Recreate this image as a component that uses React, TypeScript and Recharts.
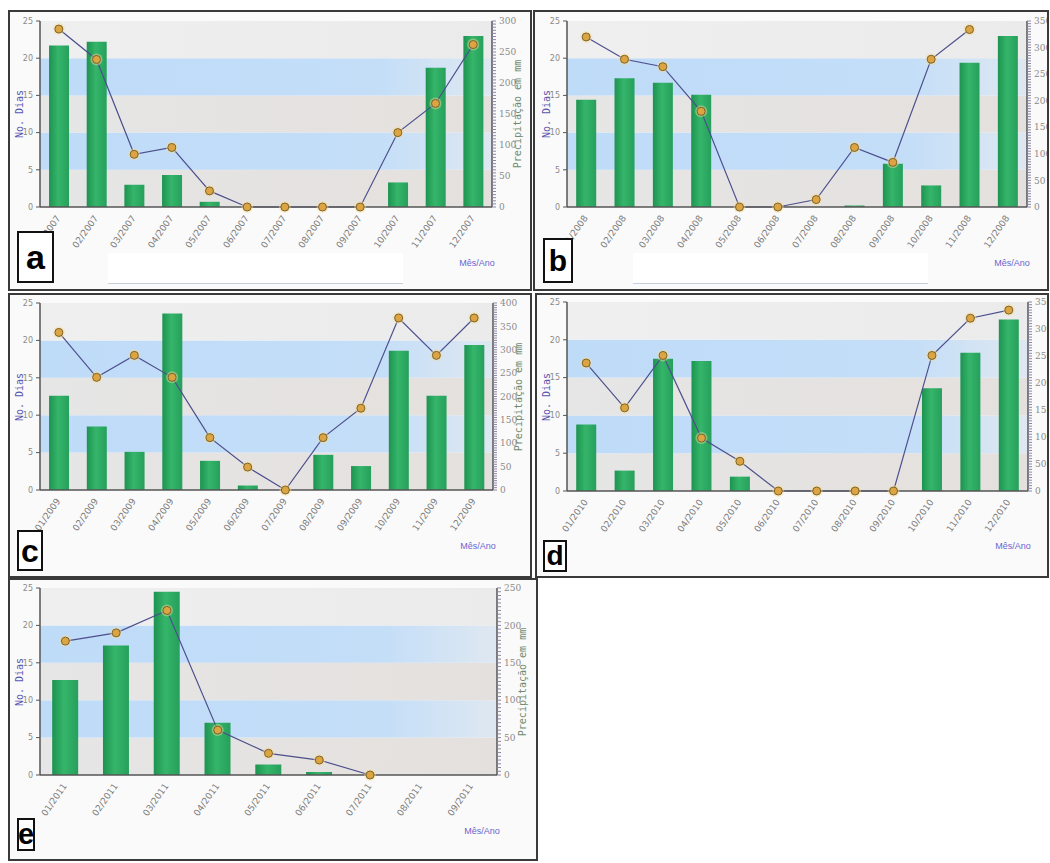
import React from 'react'
import { ComposedChart, Bar, Line, XAxis, YAxis, ReferenceArea } from 'recharts'

// month labels per year
const months2007 = ['01/2007', '02/2007', '03/2007', '04/2007', '05/2007', '06/2007', '07/2007', '08/2007', '09/2007', '10/2007', '11/2007', '12/2007']
const months2008 = ['01/2008', '02/2008', '03/2008', '04/2008', '05/2008', '06/2008', '07/2008', '08/2008', '09/2008', '10/2008', '11/2008', '12/2008']
const months2009 = ['01/2009', '02/2009', '03/2009', '04/2009', '05/2009', '06/2009', '07/2009', '08/2009', '09/2009', '10/2009', '11/2009', '12/2009']
const months2010 = ['01/2010', '02/2010', '03/2010', '04/2010', '05/2010', '06/2010', '07/2010', '08/2010', '09/2010', '10/2010', '11/2010', '12/2010']
const months2011 = ['01/2011', '02/2011', '03/2011', '04/2011', '05/2011', '06/2011', '07/2011', '08/2011', '09/2011']

// No. Dias (bars)
const dias2007 = [21.7, 22.2, 3.0, 4.3, 0.7, 0, 0, 0, 0, 3.3, 18.7, 23.0]
const dias2008 = [14.4, 17.3, 16.7, 15.1, 0, 0, 0, 0.2, 5.8, 2.9, 19.4, 23.0]
const dias2009 = [12.6, 8.5, 5.1, 23.6, 3.9, 0.6, 0, 4.7, 3.2, 18.6, 12.6, 19.4]
const dias2010 = [8.8, 2.7, 17.5, 17.2, 1.9, 0, 0, 0, 0, 13.6, 18.3, 22.7]
const dias2011 = [12.7, 17.3, 24.5, 7.0, 1.4, 0.4, 0, null, null]

// Precipitação em mm (line)
const chuva2007 = [287, 238, 85, 96, 26, 0, 0, 0, 0, 120, 167, 262]
const chuva2008 = [320, 278, 264, 180, 0, 0, 14, 112, 84, 278, 334, null]
const chuva2009 = [337, 241, 288, 241, 112, 49, 0, 112, 175, 368, 288, 368]
const chuva2010 = [237, 154, 251, 98, 55, 0, 0, 0, 0, 251, 320, 335]
const chuva2011 = [179, 190, 220, 60, 29, 20, 0, null, null]

const diasTicks = [0, 5, 10, 15, 20, 25]

const bands = [
  { y1: 0, y2: 5, fill: 'url(#bandGrey)' },
  { y1: 5, y2: 10, fill: 'url(#bandBlue)' },
  { y1: 10, y2: 15, fill: 'url(#bandGrey)' },
  { y1: 15, y2: 20, fill: 'url(#bandBlue)' },
  { y1: 20, y2: 25, fill: 'url(#bandLight)' },
]

const makeRows = (cats: string[], dias: (number | null)[], chuva: (number | null)[]) =>
  cats.map((m, i) => ({ mes: m, dias: dias[i], chuva: chuva[i] }))

const XTick = (props: any) => {
  const { x, y, payload } = props
  const tx = x + 2
  const ty = y + 3
  return (
    <text x={tx} y={ty} transform={`rotate(-55 ${tx} ${ty})`} textAnchor="end" fontSize={9} fill="#7a7a7a" fontFamily="DejaVu Sans">
      {payload.value}
    </text>
  )
}

const Dot = (props: any) => {
  const { cx, cy, value } = props
  if (value == null || cx == null || cy == null) return null
  return (
    <g>
      <circle cx={cx} cy={cy} r={6} fill="#f3dc9a" opacity={0.45} />
      <circle cx={cx} cy={cy} r={4} fill="#dca443" stroke="#7d6428" strokeWidth={1} />
    </g>
  )
}

interface PanelProps {
  rows: any[]
  rightMax: number
  box: { left: number; top: number; w: number; h: number }
  plot: { left: number; right: number; top: number; bottom: number }
  letter: string
  letterBox: { left: number; top: number; w: number; h: number; size: number }
  legendLine?: boolean
}

function Panel({ rows, rightMax, box, plot, letter, letterBox, legendLine }: PanelProps) {
  const rightTicks: number[] = []
  for (let v = 0; v <= rightMax; v += 5) rightTicks.push(v)
  const midY = (plot.top + plot.bottom) / 2
  return (
    <div style={{ position: 'absolute', left: box.left, top: box.top, width: box.w, height: box.h, background: '#fafafa', overflow: 'hidden' }}>
      {legendLine && (
        <div style={{ position: 'absolute', left: 100, top: 243, width: 295, height: 30, background: '#ffffff', borderBottom: '1px solid #c2cfdc' }} />
      )}
      <div style={{ position: 'absolute', left: 0, top: 0 }}>
        <ComposedChart
          width={box.w}
          height={box.h}
          data={rows}
          margin={{ top: plot.top, right: 0, bottom: 0, left: 0 }}
          barCategoryGap="24%"
        >
          {bands.map((b) => (
            <ReferenceArea key={b.y1} yAxisId="left" y1={b.y1} y2={b.y2} fill={b.fill} fillOpacity={1} stroke="none" ifOverflow="visible" />
          ))}
          <XAxis
            dataKey="mes"
            height={box.h - plot.bottom}
            interval={0}
            tickLine={false}
            tick={<XTick />}
            axisLine={{ stroke: '#555', strokeWidth: 1.5 }}
          />
          <YAxis
            yAxisId="left"
            orientation="left"
            width={plot.left}
            domain={[0, 25]}
            ticks={diasTicks}
            interval={0}
            tickSize={4}
            tickMargin={3}
            tick={{ fontSize: 8, fill: '#8a8a8a', fontFamily: 'DejaVu Sans' }}
            axisLine={{ stroke: '#555', strokeWidth: 1.5 }}
            tickLine={{ stroke: '#555' }}
          />
          <YAxis
            yAxisId="right"
            orientation="right"
            width={box.w - plot.right}
            domain={[0, rightMax]}
            ticks={rightTicks}
            interval={0}
            tickSize={4}
            tickMargin={3}
            tickFormatter={(v: number) => (v % 50 === 0 ? String(v) : '')}
            tick={{ fontSize: 9, fill: '#8a8a8a', fontFamily: 'DejaVu Serif' }}
            axisLine={{ stroke: '#555', strokeWidth: 1.5 }}
            tickLine={{ stroke: '#8b86a8' }}
          />
          <Bar yAxisId="left" dataKey="dias" fill="url(#barGreen)" isAnimationActive={false} />
          <Line
            yAxisId="right"
            type="linear"
            dataKey="chuva"
            stroke="#4c4f8c"
            strokeWidth={1.2}
            dot={<Dot />}
            activeDot={false}
            connectNulls={false}
            isAnimationActive={false}
          />
        </ComposedChart>
      </div>
      <div
        style={{
          position: 'absolute',
          left: plot.left - 20 - 40,
          top: midY - 7,
          width: 80,
          textAlign: 'center',
          transform: 'rotate(-90deg)',
          fontFamily: 'DejaVu Sans Mono',
          fontSize: 10,
          color: '#5a55b0',
          lineHeight: '14px',
        }}
      >
        No. Dias
      </div>
      <div
        style={{
          position: 'absolute',
          left: plot.right + 26 - 70,
          top: midY - 7,
          width: 140,
          textAlign: 'center',
          transform: 'rotate(-90deg)',
          fontFamily: 'DejaVu Sans Mono',
          fontSize: 10,
          color: '#6f8a6f',
          lineHeight: '14px',
        }}
      >
        Precipitação em mm
      </div>
      <div
        style={{
          position: 'absolute',
          left: plot.right - 40,
          top: 248,
          width: 50,
          textAlign: 'center',
          fontFamily: 'Liberation Sans',
          fontSize: 9,
          color: '#6a64d0',
        }}
      >
        Mês/Ano
      </div>
      <div
        style={{
          position: 'absolute',
          left: letterBox.left,
          top: letterBox.top,
          width: letterBox.w,
          height: letterBox.h,
          boxSizing: 'border-box',
          border: '2px solid #111',
          background: '#fff',
          display: 'flex',
          alignItems: 'center',
          justifyContent: 'center',
          fontFamily: 'Liberation Sans',
          fontWeight: 'bold',
          fontSize: letterBox.size,
          color: '#000',
          lineHeight: 1,
        }}
      >
        {letter}
      </div>
      <div style={{ position: 'absolute', left: 0, top: 0, width: box.w, height: box.h, boxSizing: 'border-box', border: '2px solid #3a3a3a' }} />
    </div>
  )
}

export default function App() {
  return (
    <div style={{ position: 'absolute', left: 0, top: 0, width: 1050, height: 863, background: '#fff' }}>
      <svg width={0} height={0} style={{ position: 'absolute' }}>
        <defs>
          <linearGradient id="barGreen" x1="0" y1="0" x2="1" y2="0">
            <stop offset="0%" stopColor="#1d9350" />
            <stop offset="45%" stopColor="#35b56a" />
            <stop offset="100%" stopColor="#26a05c" />
          </linearGradient>
          <linearGradient id="bandBlue" x1="0" y1="0" x2="1" y2="0">
            <stop offset="0%" stopColor="#bedbf8" />
            <stop offset="75%" stopColor="#c4def8" />
            <stop offset="100%" stopColor="#dfe8f1" />
          </linearGradient>
          <linearGradient id="bandGrey" x1="0" y1="0" x2="1" y2="0">
            <stop offset="0%" stopColor="#e6e6e6" />
            <stop offset="100%" stopColor="#e4e0dd" />
          </linearGradient>
          <linearGradient id="bandLight" x1="0" y1="0" x2="1" y2="0">
            <stop offset="0%" stopColor="#efefef" />
            <stop offset="100%" stopColor="#ebebeb" />
          </linearGradient>
        </defs>
      </svg>
      <Panel
        rows={makeRows(months2007, dias2007, chuva2007)}
        rightMax={300}
        box={{ left: 8, top: 10, w: 524, h: 281 }}
        plot={{ left: 32, right: 484, top: 11, bottom: 197 }}
        letter="a"
        letterBox={{ left: 9, top: 221, w: 37, h: 52, size: 34 }}
        legendLine
      />
      <Panel
        rows={makeRows(months2008, dias2008, chuva2008)}
        rightMax={350}
        box={{ left: 533, top: 10, w: 516, h: 281 }}
        plot={{ left: 34, right: 494, top: 11, bottom: 197 }}
        letter="b"
        letterBox={{ left: 10, top: 228, w: 30, h: 45, size: 30 }}
        legendLine
      />
      <Panel
        rows={makeRows(months2009, dias2009, chuva2009)}
        rightMax={400}
        box={{ left: 8, top: 293, w: 524, h: 285 }}
        plot={{ left: 32, right: 485, top: 10, bottom: 197 }}
        letter="c"
        letterBox={{ left: 9, top: 237, w: 26, h: 41, size: 32 }}
      />
      <Panel
        rows={makeRows(months2010, dias2010, chuva2010)}
        rightMax={350}
        box={{ left: 535, top: 293, w: 514, h: 285 }}
        plot={{ left: 32, right: 493, top: 9, bottom: 198 }}
        letter="d"
        letterBox={{ left: 8, top: 247, w: 24, h: 32, size: 28 }}
      />
      <Panel
        rows={makeRows(months2011, dias2011, chuva2011)}
        rightMax={250}
        box={{ left: 8, top: 578, w: 530, h: 283 }}
        plot={{ left: 32, right: 489, top: 10, bottom: 197 }}
        letter="e"
        letterBox={{ left: 9, top: 240, w: 18, h: 33, size: 29 }}
      />
    </div>
  )
}
